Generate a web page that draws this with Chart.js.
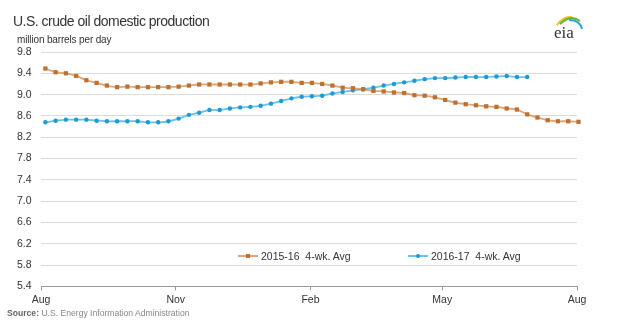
<!DOCTYPE html>
<html>
<head>
<meta charset="utf-8">
<script src="https://cdn.jsdelivr.net/npm/chart.js@4/dist/chart.umd.min.js"></script>
<style>
  body { margin: 0; background: #fff; font-family: "Liberation Sans", Arial, sans-serif; }
  #wrap { position: relative; width: 640px; height: 326px; overflow: hidden; }
  #chart { position: absolute; left: 0; top: 0; }
  .txt { position: absolute; white-space: nowrap; }
  #title { left: 13px; top: 14px; font-size: 14px; line-height: 14px; color: #333; letter-spacing: -0.5px; }
  #units { left: 17px; top: 35px; font-size: 10px; line-height: 10px; color: #333; letter-spacing: -0.15px; }
  #source { left: 7px; top: 309px; font-size: 8.6px; line-height: 9px; color: #888; }
  #source b { color: #666; }
  .leg { position: absolute; top: 249px; height: 14px; display: flex; align-items: center; font-size: 10.5px; color: #333; }
  .leg .ln { position: relative; width: 20px; height: 2px; margin-right: 3px; }
  .leg .mk { position: absolute; left: 8px; top: -1px; width: 4px; height: 4px; }
  #logo { position: absolute; left: 550px; top: 12px; }
</style>
</head>
<body>
<div id="wrap">
  <canvas id="chart" width="640" height="326"></canvas>
  <div class="txt" id="title">U.S. crude oil domestic production</div>
  <div class="txt" id="units">million barrels per day</div>
  <div class="txt" id="source"><b>Source:</b> U.S. Energy Information Administration</div>
  <div class="leg" id="leg1" style="left:238px"><span class="ln"><span class="mk"></span></span><span>2015-16&nbsp;&nbsp;4-wk. Avg</span></div>
  <div class="leg" id="leg2" style="left:408px"><span class="ln"><span class="mk" style="border-radius:50%"></span></span><span>2016-17&nbsp;&nbsp;4-wk. Avg</span></div>
  <svg id="logo" width="40" height="30" viewBox="0 0 40 30">
    <path d="M7,13 Q13,4 22,5" stroke="#f2c31b" stroke-width="2" fill="none"/>
    <path d="M10,12 Q20,2 30,9" stroke="#69b340" stroke-width="2" fill="none"/>
    <path d="M19,8 Q30,8 32,17" stroke="#2aa7df" stroke-width="2" fill="none"/>
    <text x="4" y="26" font-family="Liberation Serif, DejaVu Serif, serif" font-size="17" fill="#333">eia</text>
  </svg>
</div>
<script>
// month ticks along the x axis (days after Aug 1, 2015)
const monthDays = [0, 92, 184, 274, 366];
const monthLabels = ["Aug", "Nov", "Feb", "May", "Aug"];

// weekly points, first one a few days into August
const firstWeekDay = 3;

// 4-week average production, million barrels per day
const avg1516 = [
  9.49, 9.42, 9.40, 9.35, 9.27, 9.22, 9.17, 9.14, 9.15, 9.14, 9.14, 9.14, 9.14,
  9.15, 9.17, 9.19, 9.19, 9.19, 9.19, 9.19, 9.19, 9.21, 9.23, 9.24, 9.24, 9.22,
  9.22, 9.20, 9.17, 9.13, 9.12, 9.10, 9.07, 9.06, 9.04, 9.03, 8.99, 8.98, 8.95,
  8.90, 8.85, 8.82, 8.80, 8.78, 8.77, 8.74, 8.72, 8.63, 8.57, 8.52, 8.50, 8.50, 8.49
];
const avg1617 = [
  8.48, 8.51, 8.53, 8.53, 8.53, 8.51, 8.50, 8.50, 8.50, 8.50, 8.48, 8.48, 8.50,
  8.55, 8.62, 8.66, 8.71, 8.71, 8.74, 8.76, 8.77, 8.79, 8.83, 8.88, 8.93, 8.96,
  8.97, 8.98, 9.02, 9.05, 9.08, 9.10, 9.13, 9.17, 9.20, 9.23, 9.26, 9.29, 9.31,
  9.31, 9.32, 9.33, 9.33, 9.33, 9.34, 9.35, 9.33, 9.33
];

const seriesNames = ["2015-16  4-wk. Avg", "2016-17  4-wk. Avg"];
const orange = "#c0702e";
const orangeLine = "rgba(204, 128, 66, 0.7)";
const blue = "#1b9ad6";
const blueLine = "rgba(80, 184, 232, 0.85)";

const toPoints = (vals) => vals.map((v, i) => ({ x: firstWeekDay + 7 * i, y: v }));

// html legend colours
document.querySelector("#leg1 .ln").style.background = orangeLine;
document.querySelector("#leg1 .mk").style.background = orange;
document.querySelector("#leg2 .ln").style.background = blueLine;
document.querySelector("#leg2 .mk").style.background = blue;

Chart.defaults.font.family = '"Liberation Sans", Arial, sans-serif';
Chart.defaults.color = "#333";

new Chart(document.getElementById("chart"), {
  type: "line",
  data: {
    datasets: [
      {
        label: seriesNames[0],
        data: toPoints(avg1516),
        borderColor: orangeLine,
        borderWidth: 1.8,
        pointStyle: "rect",
        pointRadius: 3,
        pointBackgroundColor: orange,
        pointBorderWidth: 0,
        tension: 0.3,
        clip: false,
      },
      {
        label: seriesNames[1],
        data: toPoints(avg1617),
        borderColor: blueLine,
        borderWidth: 1.8,
        pointStyle: "circle",
        pointRadius: 2.2,
        pointBackgroundColor: blue,
        pointBorderWidth: 0,
        tension: 0.3,
        clip: false,
      },
    ],
  },
  options: {
    responsive: false,
    animation: false,
    layout: { padding: { left: 17, top: 52, right: 63, bottom: 17 } },
    plugins: {
      legend: { display: false },
      tooltip: { enabled: false },
    },
    scales: {
      x: {
        type: "linear",
        min: monthDays[0],
        max: monthDays[monthDays.length - 1],
        afterBuildTicks: (scale) => {
          scale.ticks = monthDays.map((d) => ({ value: d }));
        },
        ticks: {
          autoSkip: false,
          maxRotation: 0,
          padding: 3,
          font: { size: 10.5 },
          callback: (val) => monthLabels[monthDays.indexOf(val)],
        },
        grid: {
          drawOnChartArea: false,
          drawTicks: true,
          tickLength: 4,
          color: "#999",
        },
        border: { display: true, color: "#999" },
      },
      y: {
        min: 5.4,
        max: 9.8,
        afterFit: (scale) => {
          scale.width = 24;
        },
        ticks: {
          stepSize: 0.4,
          crossAlign: "far",
          font: { size: 10.5 },
          callback: (val) => val.toFixed(1),
        },
        grid: { color: "#dcdcdc", drawTicks: false },
        border: { display: false },
      },
    },
  },
});
</script>
</body>
</html>
